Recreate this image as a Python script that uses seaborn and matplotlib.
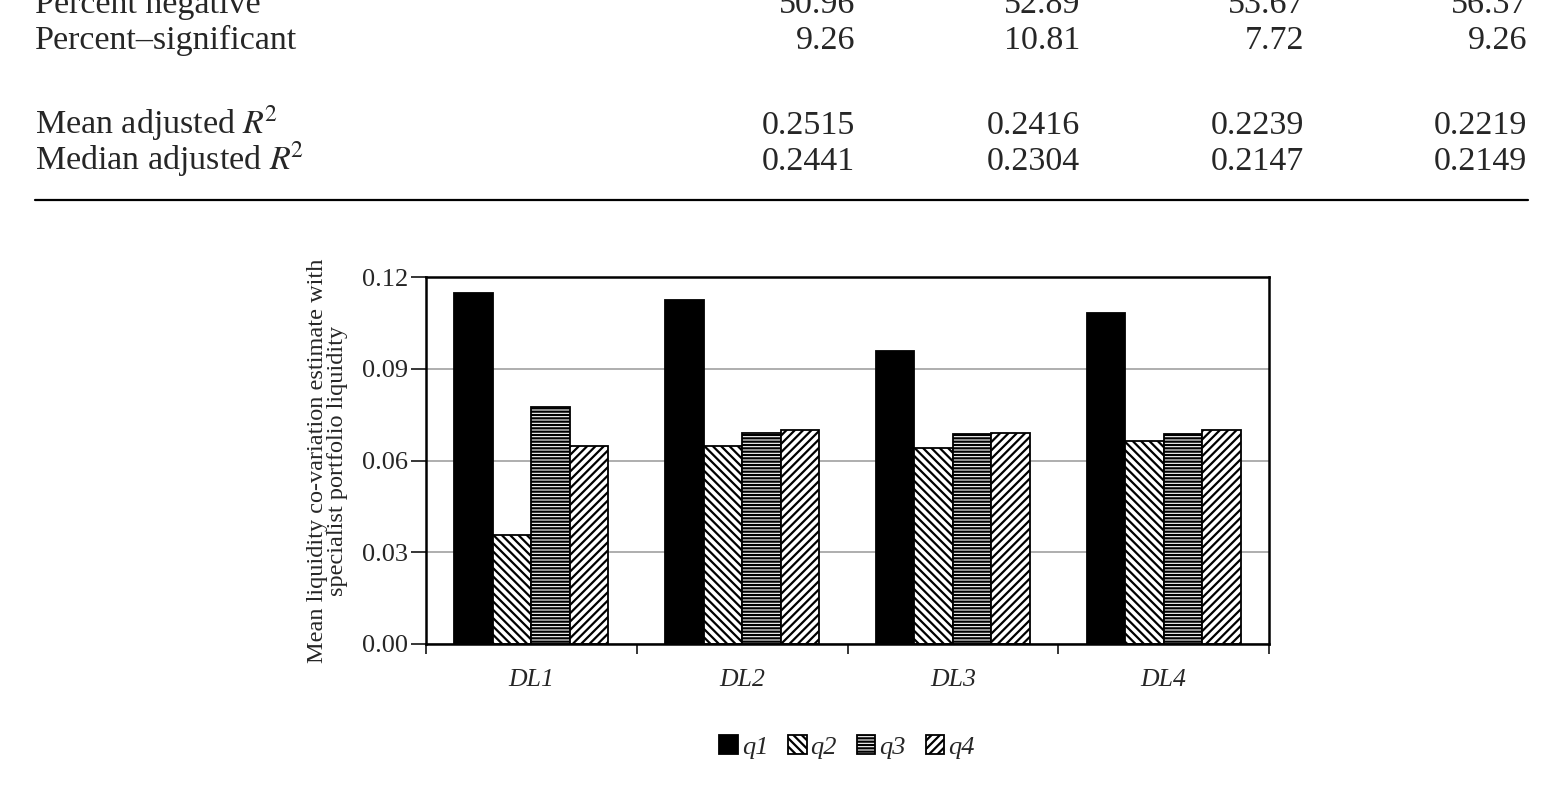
import numpy as np
import pandas as pd
import matplotlib
matplotlib.use('Agg')
import matplotlib.pyplot as plt
import seaborn as sns

# Table values (upper part of the page)
row_labels = ['Percent negative', 'Percent\u2013significant',
              r'Mean adjusted $R^{\!2}$', r'Median adjusted $R^{\!2}$']
pct_negative = ['50.96', '52.89', '53.67', '56.37']
pct_significant = ['9.26', '10.81', '7.72', '9.26']
mean_adj_r2 = ['0.2515', '0.2416', '0.2239', '0.2219']
median_adj_r2 = ['0.2441', '0.2304', '0.2147', '0.2149']

# Bar chart values
categories = ['DL1', 'DL2', 'DL3', 'DL4']
quartiles = ['q1', 'q2', 'q3', 'q4']
q1 = [0.1148, 0.1125, 0.0959, 0.1083]
q2 = [0.0356, 0.0647, 0.0642, 0.0664]
q3 = [0.0775, 0.0690, 0.0686, 0.0688]
q4 = [0.0647, 0.0700, 0.0690, 0.0700]
yticks = [0.00, 0.03, 0.06, 0.09, 0.12]

df = pd.DataFrame({
    'dl': categories * 4,
    'q': np.repeat(quartiles, 4),
    'value': q1 + q2 + q3 + q4,
})

sns.set_style('white')
plt.rcParams['font.family'] = ['Liberation Serif', 'DejaVu Serif']
plt.rcParams['mathtext.fontset'] = 'stix'
plt.rcParams['hatch.linewidth'] = 1.6

W, H = 1563, 790
fig = plt.figure(figsize=(W / 100, H / 100), dpi=100)

# Table text
table_rows = [pct_negative, pct_significant, mean_adj_r2, median_adj_r2]
baselines = [13, 49, 134, 170]
col_right = [855, 1080, 1304, 1527]
for label, vals, b in zip(row_labels, table_rows, baselines):
    y = 1 - b / H
    fig.text(35 / W, y, label, fontsize=24.5, va='baseline', ha='left')
    for v, xr in zip(vals, col_right):
        fig.text(xr / W, y, v, fontsize=24.5, va='baseline', ha='right')
fig.add_artist(plt.Line2D([35 / W, 1528 / W], [1 - 200 / H, 1 - 200 / H],
                          color='black', lw=1.6))

# Bar chart
ax = fig.add_axes([426 / W, 1 - 644 / H, (1269 - 426) / W, (644 - 277) / H])
sns.barplot(data=df, x='dl', y='value', hue='q', ax=ax,
            palette=['black', 'white', 'white', 'white'],
            width=0.73, gap=0, edgecolor='black', linewidth=1.3,
            legend=False, saturation=1)

hatches = ['', '\\\\\\\\', '-----', '////']
for cont, h in zip(ax.containers, hatches):
    for p in cont:
        p.set_hatch(h)

ax.set_ylim(0, 0.12)
ax.set_xlim(-0.5, 3.5)
ax.set_yticks(yticks)
ax.set_yticklabels([f'{v:.2f}' for v in yticks], fontsize=19)
ax.yaxis.grid(True, color='#a8a8a8', lw=1.3)
ax.set_axisbelow(True)
ax.tick_params(axis='y', direction='out', length=11, width=1.3, pad=2, left=True)

ax.set_xticks(range(4))
ax.set_xticklabels(categories, fontsize=18.5, style='italic')
ax.set_xticks([-0.5, 0.5, 1.5, 2.5, 3.5], minor=True)
ax.tick_params(axis='x', which='major', length=0, pad=18)
ax.tick_params(axis='x', which='minor', direction='out', length=7, width=1.3, bottom=True)
ax.set_xlabel('')
ax.set_ylabel('')

for s in ax.spines.values():
    s.set_color('black')
    s.set_linewidth(1.8)

ax.text(-0.117, 0.5, 'Mean liquidity co-variation estimate with\nspecialist portfolio liquidity',
        transform=ax.transAxes, rotation=90, ha='center', va='center',
        fontsize=17.5, linespacing=0.95, multialignment='center')

fig.legend(ax.containers, quartiles, loc='center', bbox_to_anchor=(847 / W, 1 - 747 / H),
           ncol=4, frameon=False, handlelength=0.7, handleheight=0.7,
           handletextpad=0.15, columnspacing=0.75,
           prop={'family': 'Liberation Serif', 'style': 'italic', 'size': 19})

fig.savefig('out.png', dpi=100)
